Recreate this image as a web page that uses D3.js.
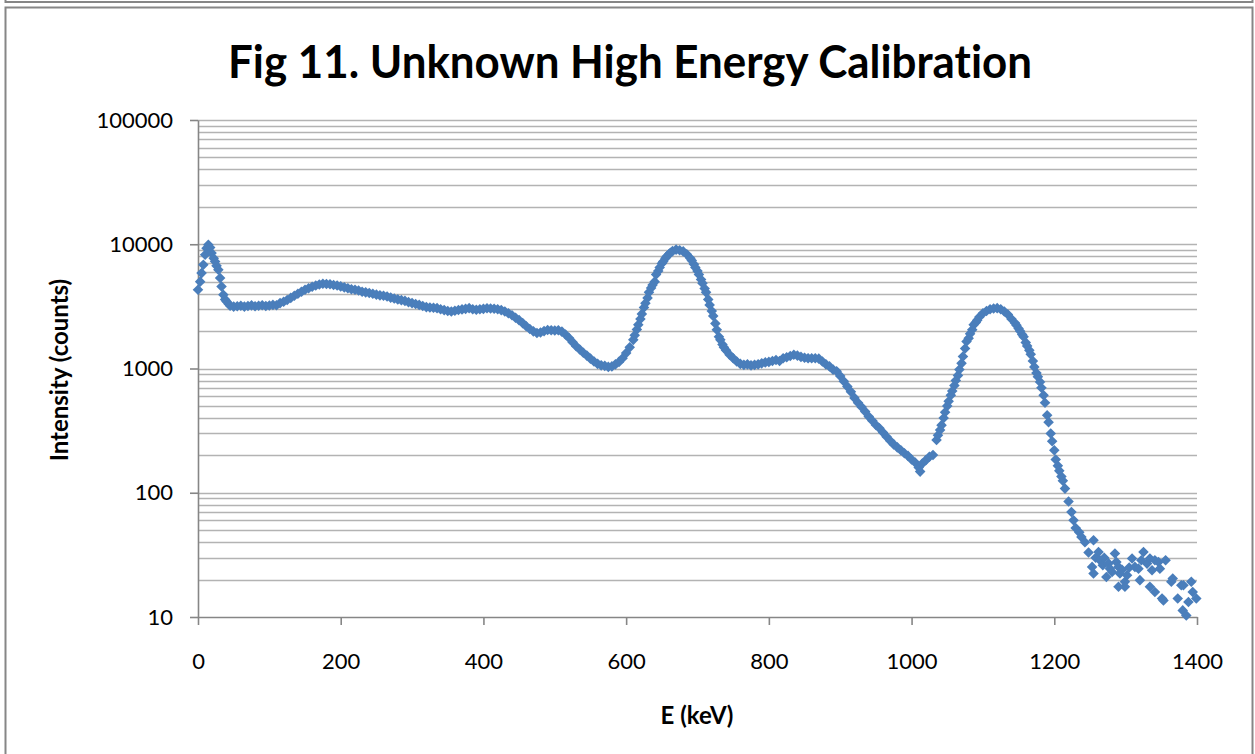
<!DOCTYPE html>
<html>
<head>
<meta charset="utf-8">
<script src="https://cdn.jsdelivr.net/npm/d3@7"></script>
<style>
  body { margin: 0; background: #fff; }
  text { font-family: Lato, "Open Sans", sans-serif; fill: #000; font-variant-ligatures: none; }
</style>
</head>
<body>
<svg id="chart" width="1255" height="754"></svg>
<script>
// spectrum: energy (keV) and counts
const energy = [
  0, 3, 5, 7.5, 10, 12, 14.5, 17, 19, 22, 24, 26, 28.5, 31, 33, 35.5, 38, 40, 43, 45,
  50, 55, 60, 65, 70, 75, 80, 85, 90, 95, 100, 105, 110, 115, 120, 125, 130, 135, 140, 145,
  150, 155, 160, 165, 170, 175, 180, 185, 190, 195, 200, 205, 210, 215, 220, 225, 230, 235, 240, 245,
  250, 255, 260, 265, 270, 275, 280, 285, 290, 295, 300, 305, 310, 315, 320, 325, 330, 335, 340, 345,
  350, 355, 360, 365, 370, 375, 380, 385, 390, 395, 400, 405, 410, 415, 420, 425, 430, 435, 440, 445,
  450, 455, 460, 465, 470, 475, 480, 485, 490, 495, 500, 505, 510, 515, 520, 525, 530, 535, 540, 545,
  550, 555, 560, 565, 570, 575, 580, 585, 590, 595, 600, 605, 610, 615, 620, 625, 630, 635, 640, 645,
  650, 655, 660, 665, 670, 675, 680, 685, 690, 695, 700, 705, 710, 715, 720, 725, 730, 735, 740, 745,
  750, 755, 760, 765, 770, 775, 780, 785, 790, 795, 800, 805, 810, 815, 820, 825, 830, 835, 840, 845,
  850, 855, 860, 865, 870, 875, 880, 885, 890, 895, 900, 905, 910, 915, 920, 925, 930, 935, 940, 945,
  950, 955, 960, 965, 970, 975, 980, 985, 990, 995, 1000, 1005, 1010, 1012, 1015, 1020, 1025, 1030, 1035, 1040,
  1045, 1050, 1055, 1060, 1065, 1070, 1075, 1080, 1085, 1090, 1095, 1100, 1105, 1110, 1115, 1120, 1125, 1130, 1135, 1140,
  1145, 1150, 1155, 1160, 1165, 1170, 1175, 1180, 1185, 1190, 1195, 1200, 1205, 1210, 1215, 1220, 1224, 1227, 1230, 1235,
  1238, 1243, 1248, 1253, 1255, 1255, 1258, 1262, 1264, 1268, 1270, 1273, 1276, 1278, 1281, 1285, 1287, 1290, 1290, 1292,
  1295, 1299, 1299, 1302, 1305, 1309, 1313, 1318, 1320, 1322, 1325, 1330, 1334, 1334, 1337, 1341, 1341, 1346, 1348, 1351,
  1353, 1356, 1364, 1366, 1373, 1378, 1381, 1380, 1385, 1388, 1392, 1394, 1399,
  // extra channels on the steep flanks of the peaks
  612, 617, 622, 627, 632, 637, 642, 647, 652, 657, 662,
  692, 697, 702, 707, 712, 717, 722, 727, 732, 737,
  1037, 1042, 1047, 1052, 1057, 1062, 1067, 1072, 1077, 1082, 1087, 1092,
  1147, 1152, 1157, 1162, 1167, 1172, 1177, 1182, 1187, 1192, 1197, 1202, 1207, 1212
];
const counts = [
  4300, 5000, 5860, 6840, 8240, 9300, 9900, 9400, 8500, 7700, 7270, 6700, 6240, 5350, 4570, 3920, 3600, 3460, 3300, 3200,
  3150, 3170, 3200, 3150, 3180, 3220, 3170, 3200, 3230, 3180, 3210, 3250, 3230, 3360, 3450, 3560, 3700, 3850, 4000, 4150,
  4300, 4420, 4550, 4650, 4750, 4810, 4780, 4760, 4700, 4650, 4580, 4500, 4420, 4350, 4300, 4240, 4150, 4100, 4050, 3990,
  3930, 3880, 3850, 3800, 3720, 3660, 3600, 3550, 3500, 3420, 3360, 3300, 3250, 3180, 3120, 3100, 3080, 3060, 3000, 2950,
  2900, 2880, 2920, 2960, 2990, 3020, 3060, 3000, 2970, 3000, 3020, 3050, 3040, 3030, 3000, 2950, 2880, 2780, 2680, 2560,
  2450, 2320, 2190, 2080, 1990, 1930, 1950, 2000, 2040, 2030, 2020, 2030, 1980, 1880, 1760, 1630, 1510, 1420, 1340, 1270,
  1200, 1140, 1090, 1060, 1050, 1030, 1040, 1080, 1130, 1210, 1330, 1480, 1700, 2060, 2500, 3100, 3700, 4450, 5000, 6100,
  7000, 7700, 8300, 8800, 9050, 8950, 8760, 8300, 7700, 6900, 6100, 5200, 4400, 3600, 2900, 2300, 1800, 1560, 1400, 1290,
  1210, 1140, 1090, 1070, 1080, 1060, 1070, 1080, 1100, 1120, 1130, 1150, 1170, 1150, 1210, 1230, 1260, 1290, 1270, 1240,
  1220, 1210, 1210, 1210, 1200, 1140, 1080, 1040, 980, 950, 870, 790, 715, 650, 580, 530, 490, 450, 410, 380,
  351, 330, 305, 282, 262, 245, 232, 220, 208, 198, 185, 175, 160, 148, 172, 183, 195, 201, 266, 320,
  400, 500, 610, 730, 880, 1100, 1450, 1750, 2050, 2350, 2600, 2780, 2900, 3000, 3040, 3060, 3000, 2880, 2720, 2500,
  2320, 2100, 1880, 1620, 1400, 1150, 920, 780, 610, 420, 300, 220, 165, 135, 108, 85, 70, 60, 52, 48,
  44, 40, 33, 25.3, 22.4, 41.5, 30, 33.4, 28.6, 26.1, 30, 21, 27, 24.5, 23, 32.4, 27.7, 25.3, 17.5, 22.4,
  24, 19.2, 17.5, 21.7, 25, 29.6, 25.3, 24.5, 19.8, 28.6, 33.4, 26.9, 29.6, 17.5, 23.8, 28.6, 15.9, 27.7, 24.5, 14.1,
  13.6, 28.6, 19.2, 20.4, 14.1, 18, 18, 11.3, 10.3, 13.2, 19.2, 15.9, 14.1,
  1850, 2250, 2750, 3350, 4100, 4700, 5700, 6500, 7270, 8000, 8550,
  7400, 6500, 5700, 4850, 4100, 3250, 2650, 2050, 1700, 1480,
  290, 350, 445, 545, 660, 800, 980, 1250, 1650, 1900, 2250, 2450,
  2230, 2000, 1800, 1520, 1300, 1030, 860, 700, 530, 370, 260, 185, 150, 125
];
const xTickValues = [0, 200, 400, 600, 800, 1000, 1200, 1400];
const yTickValues = [10, 100, 1000, 10000, 100000];
const chartTitle = "Fig 11. Unknown High Energy Calibration";
const xTitle = "E (keV)";
const yTitle = "Intensity (counts)";

const svg = d3.select("#chart");
const axisGray = "#868686";

// frame of the chart, plus the bottom edge of the one above it
svg.append("rect")
  .attr("x", 5.5).attr("y", -100).attr("width", 1247).attr("height", 102)
  .attr("fill", "none").attr("stroke", axisGray).attr("stroke-width", 2);
svg.append("rect")
  .attr("x", 5.5).attr("y", 7.5).attr("width", 1247).attr("height", 800)
  .attr("fill", "#fff").attr("stroke", axisGray).attr("stroke-width", 2);

const x = d3.scaleLinear().domain([0, 1400]).range([198, 1197]);
const y = d3.scaleLog().domain([10, 100000]).range([617, 120]);

// gridlines at every 1..9 multiple of each decade
svg.append("g")
  .selectAll("line")
  .data(y.ticks().filter(d => d > 10))
  .enter()
  .append("line")
  .attr("x1", x(0)).attr("x2", x(1400))
  .attr("y1", d => Math.round(y(d)) + 0.5)
  .attr("y2", d => Math.round(y(d)) + 0.5)
  .attr("stroke", "#b3b3b3")
  .attr("stroke-width", 1.6);

const xAxis = svg.append("g")
  .attr("transform", "translate(0,617)")
  .call(d3.axisBottom(x).tickValues(xTickValues).tickFormat(d3.format("d"))
    .tickSize(8).tickSizeOuter(0).tickPadding(28));
const yAxis = svg.append("g")
  .attr("transform", "translate(198,0)")
  .call(d3.axisLeft(y).tickValues(yTickValues).tickFormat(d3.format("d"))
    .tickSize(8).tickSizeOuter(0).tickPadding(17));

[xAxis, yAxis].forEach(g => {
  g.selectAll("path, line").attr("stroke", axisGray).attr("stroke-width", 1.6);
  g.selectAll("text").style("font-size", "22px").style("font-family", "Lato, sans-serif").attr("fill", "#000");
});

// data points as Excel-style diamonds
svg.append("g")
  .selectAll("path")
  .data(energy.map((e, i) => [e, counts[i]]))
  .enter()
  .append("path")
  .attr("d", d3.symbol().type(d3.symbolSquare).size(56))
  .attr("transform", d => "translate(" + x(d[0]) + "," + y(d[1]) + ") rotate(45)")
  .attr("fill", "#4a7ebb");

svg.append("text")
  .attr("x", 630).attr("y", 78)
  .attr("text-anchor", "middle")
  .attr("textLength", 804).attr("lengthAdjust", "spacingAndGlyphs")
  .style("font-size", "45px").style("font-weight", "bold")
  .text(chartTitle);

svg.append("text")
  .attr("x", 697).attr("y", 724)
  .attr("text-anchor", "middle")
  .style("font-size", "24px").style("font-weight", "bold")
  .text(xTitle);

svg.append("text")
  .attr("transform", "translate(68,370) rotate(-90)")
  .attr("text-anchor", "middle")
  .style("font-size", "24px").style("font-weight", "bold")
  .text(yTitle);
</script>
</body>
</html>
